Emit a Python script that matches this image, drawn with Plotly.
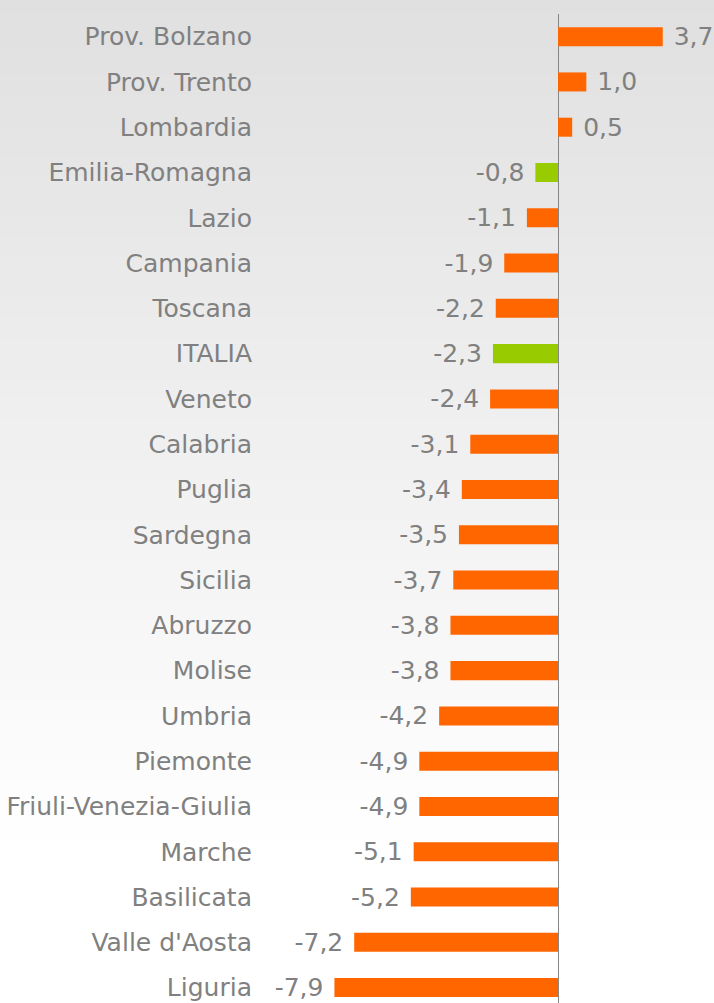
import plotly.graph_objects as go

# Regioni, ordinate dall'alto verso il basso
regioni = ["Prov. Bolzano", "Prov. Trento", "Lombardia", "Emilia-Romagna", "Lazio",
           "Campania", "Toscana", "ITALIA", "Veneto", "Calabria", "Puglia", "Sardegna",
           "Sicilia", "Abruzzo", "Molise", "Umbria", "Piemonte", "Friuli-Venezia-Giulia",
           "Marche", "Basilicata", "Valle d'Aosta", "Liguria"]
valori = [3.7, 1.0, 0.5, -0.8, -1.1, -1.9, -2.2, -2.3, -2.4, -3.1, -3.4, -3.5,
          -3.7, -3.8, -3.8, -4.2, -4.9, -4.9, -5.1, -5.2, -7.2, -7.9]
evidenziate = ["Emilia-Romagna", "ITALIA"]

ARANCIO = "#ff6600"
VERDE = "#99cc00"
GRIGIO = "#808080"
FONT = "DejaVu Sans"

colori = [VERDE if r in evidenziate else ARANCIO for r in regioni]
etichette = [(" " if v >= 0 else "") + f"{v:.1f}".replace(".", ",") + ("" if v >= 0 else " ")
             for v in valori]

fig = go.Figure(go.Bar(
    x=valori, y=regioni, orientation="h",
    marker=dict(color=colori, line=dict(width=0)),
    width=0.42,
    text=etichette, textposition="outside", constraintext="none",
    textfont=dict(family=FONT, size=25, color=GRIGIO),
    cliponaxis=False, hoverinfo="skip",
))

# sfondo sfumato grigio -> bianco
bande = 50
altezza = 1.02
for i in range(bande):
    t = i / bande
    g = int(round(224 + (255 - 224) * min(1, t / 0.84)))
    fig.add_shape(type="rect", xref="paper", yref="paper",
                  x0=-1, x1=1.1,
                  y0=1.02 - (i + 1.5) / bande * altezza, y1=1.02 - i / bande * altezza,
                  fillcolor=f"rgb({g},{g},{g})", line=dict(width=0), layer="below")

fig.update_layout(
    width=714, height=1003,
    margin=dict(l=316, r=0, t=14, b=0),
    paper_bgcolor="white", plot_bgcolor="rgba(0,0,0,0)",
    showlegend=False,
    font=dict(family=FONT, size=25, color=GRIGIO),
    xaxis=dict(range=[-8.55, 5.51], showgrid=False, showticklabels=False,
               zeroline=True, zerolinecolor="#868686", zerolinewidth=1, fixedrange=True),
    yaxis=dict(range=[21.34, -0.5], showgrid=False, ticks="", ticklabelstandoff=63,
               tickfont=dict(family=FONT, size=25, color=GRIGIO), fixedrange=True),
)

fig.write_html("out.html", config={"displayModeBar": False},
               post_script="document.body.style.margin='0';")
